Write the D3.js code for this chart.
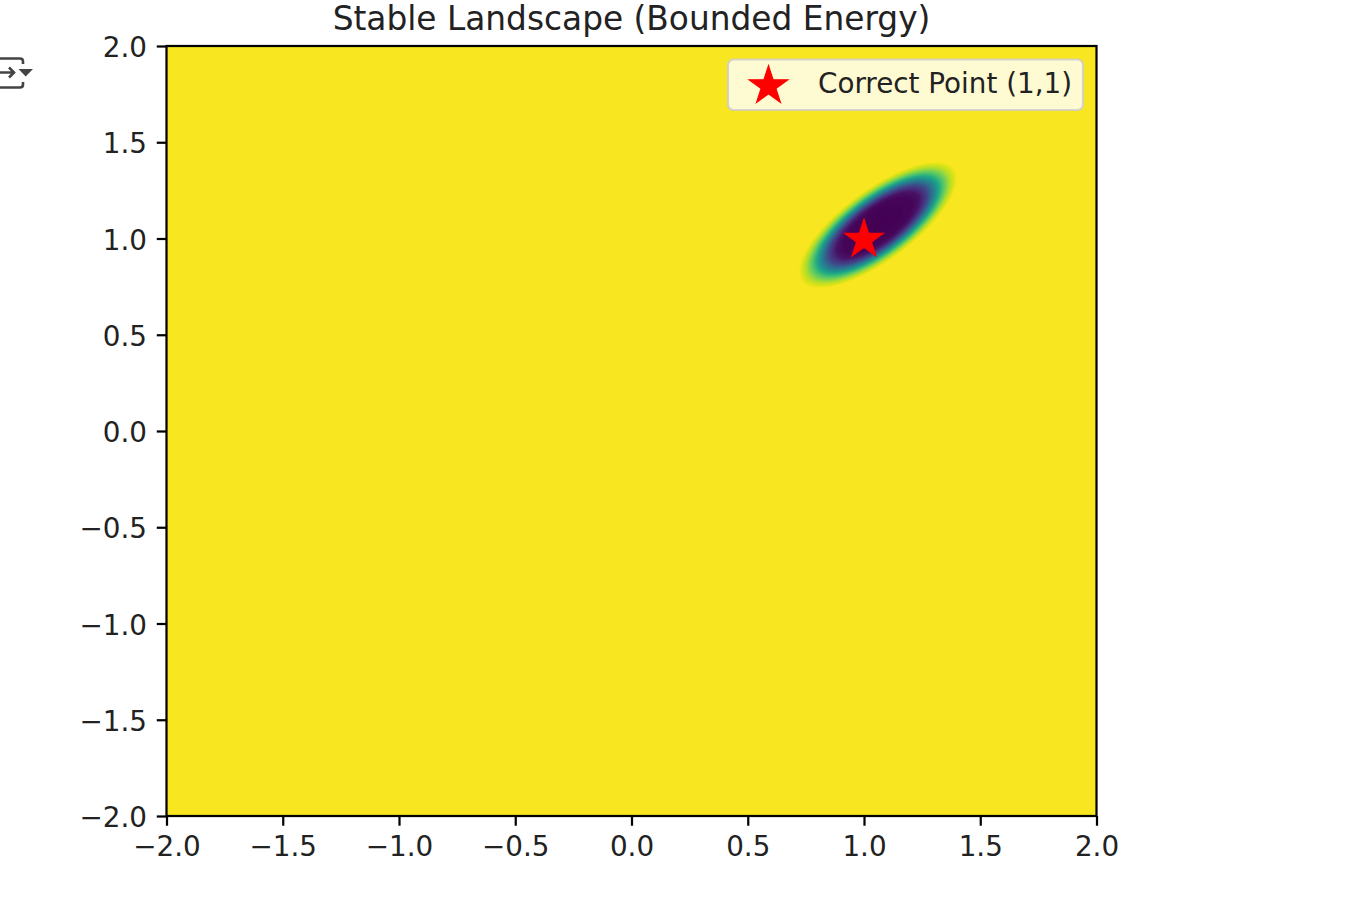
<!DOCTYPE html>
<html><head><meta charset="utf-8">
<script src="https://cdn.jsdelivr.net/npm/d3@7"></script>
<style>body{margin:0;background:#fff;} svg{display:block;font-family:"DejaVu Sans",sans-serif;}</style>
</head><body><svg id="chart" width="1350" height="898"></svg>
<script>
// ---- data ----
const chartTitle = "Stable Landscape (Bounded Energy)";
const xDomain = [-2, 2];
const yDomain = [-2, 2];
const xTickValues = [-2.0, -1.5, -1.0, -0.5, 0.0, 0.5, 1.0, 1.5, 2.0];
const yTickValues = [-2.0, -1.5, -1.0, -0.5, 0.0, 0.5, 1.0, 1.5, 2.0];
// energy well (outer contour ellipse, data units)
const wellCenter = [1.06, 1.07];
const wellSemiAxes = [0.42, 0.162];
const wellAngleDeg = 43.6;
// bounded energy vs normalized radius inside the well
const profileRadius = [0.0, 0.45, 0.55, 0.65, 0.75, 0.85, 0.95, 1.05];
const profileEnergy = [0.0, 0.01, 0.05, 0.2, 0.45, 0.7, 0.88, 0.99];
const markerPoint = [1, 1];
const markerLabel = "Correct Point (1,1)";

// ---- layout ----
const PT = 2.78;
const m = {left: 166.5, right: 1096.5, top: 46, bottom: 816};
const svg = d3.select("#chart");
const x = d3.scaleLinear().domain(xDomain).range([m.left, m.right]);
const y = d3.scaleLinear().domain(yDomain).range([m.bottom, m.top]);
const color = d3.scaleSequential(d3.interpolateViridis).domain([0, 1]);
const energyAt = d3.scaleLinear().domain(profileRadius).range(profileEnergy).clamp(true);

// ---- heatmap ----
const pw = Math.round(m.right - m.left), ph = Math.round(m.bottom - m.top);
const canvas = document.createElement("canvas");
canvas.width = pw; canvas.height = ph;
const ctx = canvas.getContext("2d");
const img = ctx.createImageData(pw, ph);
const lut = d3.range(1024).map(k => d3.rgb(color(k / 1023)));
const th = wellAngleDeg * Math.PI / 180, ct = Math.cos(th), st = Math.sin(th);
for (let j = 0; j < ph; j++) {
  const dy = y.invert(m.top + j + 0.5) - wellCenter[1];
  for (let i = 0; i < pw; i++) {
    const dx = x.invert(m.left + i + 0.5) - wellCenter[0];
    const u = (dx * ct + dy * st) / wellSemiAxes[0];
    const v = (-dx * st + dy * ct) / wellSemiAxes[1];
    const e = energyAt(Math.sqrt(u * u + v * v));
    const c = lut[Math.round(e * 1023)];
    const o = (j * pw + i) * 4;
    img.data[o] = c.r; img.data[o + 1] = c.g; img.data[o + 2] = c.b; img.data[o + 3] = 255;
  }
}
ctx.putImageData(img, 0, 0);
svg.append("image")
  .attr("x", m.left).attr("y", m.top).attr("width", pw).attr("height", ph)
  .attr("preserveAspectRatio", "none")
  .attr("href", canvas.toDataURL());

// ---- axes ----
const fmt = d3.format(".1f");
const tickLen = 3.5 * PT, pad = 3.5 * PT, fs = 10 * PT;
const gx = svg.append("g").attr("transform", `translate(0,${m.bottom})`)
  .call(d3.axisBottom(x).tickValues(xTickValues).tickFormat(fmt).tickSize(tickLen).tickPadding(pad));
const gy = svg.append("g").attr("transform", `translate(${m.left},0)`)
  .call(d3.axisLeft(y).tickValues(yTickValues).tickFormat(fmt).tickSize(tickLen).tickPadding(pad));
[gx, gy].forEach(g => {
  g.select(".domain").remove();
  g.selectAll(".tick line").attr("stroke", "#000").attr("stroke-width", 0.8 * PT);
  g.selectAll(".tick text").attr("fill", "#222").style("font-size", fs + "px")
    .style("font-family", '"DejaVu Sans", sans-serif');
});
gx.selectAll(".tick text").attr("dy", null).attr("y", tickLen + pad + 0.73 * fs);
gy.selectAll(".tick text").attr("dy", null).attr("y", 10.5);

// spines
svg.append("rect").attr("x", m.left).attr("y", m.top)
  .attr("width", m.right - m.left).attr("height", m.bottom - m.top)
  .attr("fill", "none").attr("stroke", "#000").attr("stroke-width", 0.8 * PT);

// ---- star marker ----
function starPath(cx, cy, R) {
  const pts = d3.range(10).map(k => {
    const a = -Math.PI / 2 + k * Math.PI / 5;
    const r = k % 2 ? R * 0.381966 : R;
    return [cx + r * Math.cos(a), cy + r * Math.sin(a)];
  });
  return "M" + pts.map(p => p.join(",")).join("L") + "Z";
}
svg.append("path").attr("d", starPath(x(markerPoint[0]), y(markerPoint[1]) + 1, 20.3))
  .attr("fill", "#ff0000").attr("stroke", "#ff0000").attr("stroke-width", 1.2);

// ---- legend ----
const lg = svg.append("g");
lg.append("rect").attr("x", 728).attr("y", 59.5).attr("width", 355).attr("height", 50.5)
  .attr("rx", 5.5).attr("fill", "#fff").attr("fill-opacity", 0.8)
  .attr("stroke", "#ccc").attr("stroke-opacity", 0.8).attr("stroke-width", 2.2);
lg.append("path").attr("d", starPath(768.5, 86, 20.3))
  .attr("fill", "#ff0000").attr("stroke", "#ff0000").attr("stroke-width", 1.2);
lg.append("text").attr("x", 818).attr("y", 92.5).attr("fill", "#222")
  .style("font-size", fs + "px").text(markerLabel);

// ---- title ----
svg.append("text").attr("x", (m.left + m.right) / 2).attr("y", 30)
  .attr("text-anchor", "middle").attr("fill", "#222")
  .style("font-size", "32.8px").text(chartTitle);

// ---- notebook output icon ----
const ic = svg.append("g").attr("fill", "none").attr("stroke", "#444").attr("stroke-width", 2.6);
ic.append("path").attr("d", "M0,58.5 H20 Q23,58.5 23,61.5 V64");
ic.append("path").attr("d", "M0,87.5 H20 Q23,87.5 23,84.5 V82");
ic.append("path").attr("d", "M0,72.5 H14 M9,67.5 L14,72.5 L9,77.5");
svg.append("path").attr("d", "M18.5,69 L33,69 L25.7,76.5 Z").attr("fill", "#444");
</script>
</body></html>
